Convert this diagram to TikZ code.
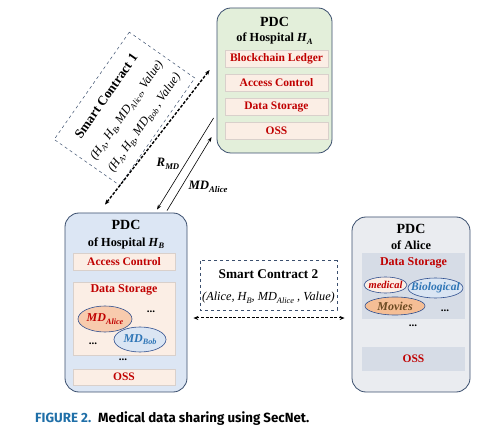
\documentclass[tikz,border=0pt]{standalone}
\usepackage{fontspec}
\setmainfont{Liberation Serif}
\newfontfamily\capfont{Fira Sans}
\usepackage{graphicx}
\usetikzlibrary{shapes.misc,shapes.geometric,arrows.meta,calc}
\definecolor{bordc}{HTML}{3B4F6E}
\definecolor{greenfill}{HTML}{E3EFDA}
\definecolor{bluefill}{HTML}{DCE6F4}
\definecolor{greyfill}{HTML}{EAECF0}
\definecolor{regfill}{HTML}{D6DCE6}
\definecolor{peach}{HTML}{FBEEE5}
\definecolor{peachbd}{HTML}{D9D0CB}
\definecolor{darkred}{HTML}{C00000}
\definecolor{txtblue}{HTML}{2E75B6}
\definecolor{ellbd}{HTML}{2F4F8F}
\definecolor{salmon}{HTML}{F8CBAD}
\definecolor{lightblue}{HTML}{DAE5F3}
\definecolor{orangefill}{HTML}{F5BE95}
\definecolor{moviestxt}{HTML}{6B4A22}
\definecolor{capblue}{HTML}{1F6FA8}
\newcommand\lo[1]{\raisebox{-0.45ex}{\scalebox{0.68}{\itshape #1}}}
\begin{document}
\begin{tikzpicture}[x=1pt,y=-1pt,
  pdc/.style={draw=bordc, line width=0.8pt, rounded corners=14pt, inner sep=0pt},
  ttl/.style={font=\bfseries\fontsize{14}{15}\selectfont, inner sep=0pt},
  subttl/.style={font=\bfseries\fontsize{12.3}{13}\selectfont, inner sep=0pt},
  inbox/.style={draw=peachbd, line width=0.4pt, fill=peach, inner sep=0pt, minimum width=103pt, minimum height=17pt, text=darkred, font=\bfseries\fontsize{11.5}{12}\selectfont},
  redlbl/.style={text=darkred, font=\bfseries\fontsize{12}{13}\selectfont, inner sep=0pt},
  ell/.style={ellipse, draw=ellbd, line width=0.6pt, inner sep=0pt},
  dots/.style={font=\bfseries\fontsize{11}{12}\selectfont, inner sep=0pt},
  contract/.style={chamfered rectangle, chamfered rectangle corners=north east, chamfered rectangle xsep=5pt, chamfered rectangle ysep=5pt, draw=bordc, dashed, line width=0.5pt, inner sep=0pt, align=center},
  sctitle/.style={font=\bfseries\fontsize{13.3}{14}\selectfont, inner sep=0pt},
  scline/.style={font=\itshape\fontsize{12.3}{13}\selectfont, inner sep=0pt},
  msg/.style={line width=0.6pt, -{Stealth[length=5pt,width=3.5pt]}},
  scarrow/.style={{Stealth[length=5pt,width=4pt]}-{Stealth[length=5pt,width=4pt]}, dash pattern=on 3pt off 1.6pt},
  arrlbl/.style={font=\bfseries\itshape\fontsize{12.8}{14}\selectfont, inner sep=0pt}
]
\useasboundingbox (0,0) rectangle (493,438);
\fill[white] (0,0) rectangle (493,438);

% ---------- Hospital A ----------
\node[pdc, fill=greenfill, minimum width=115pt, minimum height=145pt] (A) at (274.5,80.5) {};
\node[ttl] (Apdc) at (274.5,22) {PDC};
\node[subttl] (Aof) at (274.5,38.5) {of Hospital \textit{H}\lo{A}};
\node[inbox] (Abl) at (276.5,58.5) {Blockchain Ledger};
\node[inbox] (Aac) at (276.5,82.5) {Access Control};
\node[inbox] (Ads) at (276.5,106.5) {Data Storage};
\node[inbox] (Aoss) at (276.5,130.5) {OSS};

% ---------- Hospital B ----------
\node[pdc, fill=bluefill, minimum width=122pt, minimum height=179pt] (B) at (126,302.5) {};
\node[ttl] (Bpdc) at (126,225) {PDC};
\node[subttl] (Bof) at (126,243) {of Hospital \textit{H}\lo{B}};
\node[inbox, minimum width=102pt] (Bac) at (124,261.5) {Access Control};
\node[draw=peachbd, line width=0.4pt, fill=peach, minimum width=102pt, minimum height=73pt, inner sep=0pt] (Bds) at (124,318.5) {};
\node[redlbl] (Bdslbl) at (124,290) {Data Storage};
\node[ell, fill=salmon, minimum width=54pt, minimum height=26pt] (Bmda) at (105,319) {};
\node[font=\bfseries\itshape\fontsize{12}{13}\selectfont, text=darkred, inner sep=0pt] at (Bmda) {MD\lo{Alice}};
\node[ell, fill=lightblue, minimum width=52pt, minimum height=25pt] (Bmdb) at (140,339.5) {};
\node[font=\bfseries\itshape\fontsize{12}{13}\selectfont, text=txtblue, inner sep=0pt] at (Bmdb) {MD\lo{Bob}};
\node[dots] (Bd1) at (151,312) {...};
\node[dots] (Bd2) at (93,344) {...};
\node[dots] (Bd3) at (123,360) {...};
\node[inbox, minimum width=102pt, minimum height=16pt] (Boss) at (124,377) {OSS};

% ---------- Alice ----------
\node[pdc, fill=greyfill, minimum width=118pt, minimum height=175pt] (C) at (411,304.5) {};
\node[ttl] (Cpdc) at (411,229) {PDC};
\node[subttl] (Cof) at (411,245) {of Alice};
\node[fill=regfill, minimum width=103pt, minimum height=66pt, inner sep=0pt] (Cds) at (413.5,286) {};
\node[redlbl] (Cdslbl) at (413.5,263) {Data Storage};
\node[ell, fill=peach, minimum width=43pt, minimum height=16pt] (Cmed) at (385.5,285) {};
\node[font=\bfseries\itshape\fontsize{10.5}{11}\selectfont, text=darkred, inner sep=0pt] at (Cmed) {medical};
\node[ell, fill=lightblue, minimum width=55pt, minimum height=20pt] (Cbio) at (435.5,288) {};
\node[font=\bfseries\itshape\fontsize{11.5}{12}\selectfont, text=txtblue, inner sep=0pt] at (Cbio) {Biological};
\node[ell, fill=orangefill, minimum width=60pt, minimum height=18pt] (Cmov) at (395,306) {};
\node[font=\bfseries\itshape\fontsize{12}{13}\selectfont, text=moviestxt, inner sep=0pt] at (Cmov) {Movies};
\node[dots] (Cd1) at (445,311) {...};
\node[dots] (Cd2) at (413,326) {...};
\node[fill=regfill, minimum width=103pt, minimum height=24pt, inner sep=0pt, text=darkred, font=\bfseries\fontsize{11.5}{12}\selectfont] (Coss) at (413.5,359) {OSS};

% ---------- Smart contracts ----------
\node[contract, rotate=55, minimum width=131pt, minimum height=80pt] (SC1) at (124.5,108.75) {};
\node[sctitle, rotate=55] (SC1a) at ($(SC1.center)+(-18.4,-12.9)$) {Smart Contract 1};
\node[scline, rotate=55] (SC1b) at ($(SC1.center)+(2.5,1.7)$) {(\textit{H}\lo{A}, \textit{H}\lo{B}, \textit{MD}\lo{Alice}, Value)};
\node[scline, rotate=55] (SC1c) at ($(SC1.center)+(20.1,14.1)$) {(\textit{H}\lo{A}, \textit{H}\lo{B}, \textit{MD}\lo{Bob} , Value)};

\node[contract, minimum width=137pt, minimum height=50pt] (SC2) at (268.5,285) {};
\node[sctitle] (SC2a) at (268.5,274.5) {Smart Contract 2};
\node[scline] (SC2b) at (268.5,298) {(Alice, \textit{H}\lo{B}, \textit{MD}\lo{Alice} , Value)};

% ---------- connectors ----------
\coordinate (sc1a) at ($(A.west)+(-7,-10.5)$);
\coordinate (sc1b) at ($(B.north)+(-21,-8)$);
\draw[scarrow, line width=1.4pt] (sc1a) -- (sc1b);

\coordinate (rmda) at ($(A.west)+(-3,37.5)$);
\coordinate (rmdb) at ($(B.north)+(31,-3)$);
\draw[msg] (rmda) -- (rmdb);
\coordinate (mdaa) at ($(B.north)+(41,-2)$);
\coordinate (mdab) at ($(A.west)+(-5,56.5)$);
\draw[msg] (mdaa) -- (mdab);
\node[arrlbl] (lrmd) at (168,164) {R\lo{MD}};
\node[arrlbl] (lmda) at (208,187) {MD\lo{Alice}};

\coordinate (sc2a) at ($(B.east)+(6,15.5)$);
\coordinate (sc2b) at ($(C.west)+(-7,13.5)$);
\draw[scarrow, line width=1pt] (sc2a) -- (sc2b);

% ---------- caption ----------
\node[anchor=west, inner sep=0pt, font=\capfont\bfseries\fontsize{13.3}{15}\selectfont] (cap) at (35,419) {\textcolor{capblue}{FIGURE 2.}\hspace{7pt}Medical data sharing using SecNet.};
\end{tikzpicture}
\end{document}
